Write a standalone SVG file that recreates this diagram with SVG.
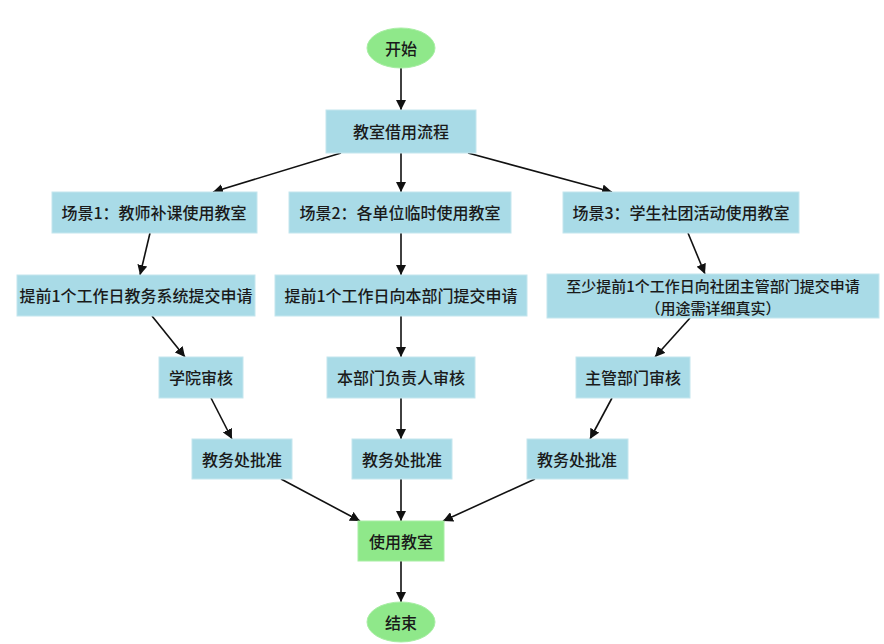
<svg xmlns="http://www.w3.org/2000/svg" width="884" height="644" viewBox="0 0 884 644">
<defs>
<marker id="ah" viewBox="0 0 10 10" refX="10" refY="5" markerWidth="10" markerHeight="10" markerUnits="userSpaceOnUse" orient="auto">
<path d="M0,0 L10,5 L0,10 z" fill="#111"/>
</marker>
<style>
.box{fill:#a9dbe7;stroke:#c4e6ee;stroke-width:1}
.green{fill:#8fe88a;stroke:#a8eea4;stroke-width:1}
.t{font-family:"Noto Sans CJK SC","Liberation Sans",sans-serif;font-size:16px;font-weight:500;fill:#1a1a1a;text-anchor:middle;dominant-baseline:central}
.s{font-size:15px}
.c{stroke:#111;stroke-width:1.6;fill:none;marker-end:url(#ah)}
</style>
</defs>
<rect width="884" height="644" fill="#ffffff"/>
<g id="connectors">
<line class="c" x1="401" y1="68" x2="401" y2="110"/>
<line class="c" x1="341" y1="153" x2="213" y2="192"/>
<line class="c" x1="401" y1="153" x2="401" y2="192"/>
<line class="c" x1="468" y1="153" x2="612" y2="192"/>
<line class="c" x1="150" y1="233" x2="140" y2="275"/>
<line class="c" x1="401" y1="233" x2="401" y2="275"/>
<line class="c" x1="688" y1="233" x2="705" y2="274"/>
<line class="c" x1="152" y1="316" x2="185" y2="357"/>
<line class="c" x1="401" y1="316" x2="401" y2="357"/>
<line class="c" x1="690" y1="318" x2="655" y2="357"/>
<line class="c" x1="211" y1="398" x2="232" y2="439"/>
<line class="c" x1="401" y1="398" x2="401" y2="439"/>
<line class="c" x1="612" y1="398" x2="590" y2="439"/>
<line class="c" x1="281" y1="479" x2="360" y2="521"/>
<line class="c" x1="401" y1="479" x2="401" y2="521"/>
<line class="c" x1="535" y1="479" x2="443" y2="521"/>
<line class="c" x1="401" y1="561" x2="401" y2="602"/>
</g>
<g id="start"><ellipse class="green" cx="401" cy="48" rx="34" ry="20"/><text class="t" x="401" y="48">开始</text></g>
<g id="flow"><rect class="box" x="326" y="110" width="150" height="43"/><text class="t" x="401" y="131">教室借用流程</text></g>
<g id="scene1"><rect class="box" x="52" y="192" width="205" height="41"/><text class="t" x="154" y="212">场景1：教师补课使用教室</text></g>
<g id="scene2"><rect class="box" x="289" y="192" width="222" height="41"/><text class="t" x="400" y="212">场景2：各单位临时使用教室</text></g>
<g id="scene3"><rect class="box" x="563" y="192" width="236" height="41"/><text class="t" x="681" y="212">场景3：学生社团活动使用教室</text></g>
<g id="apply1"><rect class="box" x="17" y="275" width="238" height="41"/><text class="t" x="136" y="295">提前1个工作日教务系统提交申请</text></g>
<g id="apply2"><rect class="box" x="275" y="275" width="252" height="41"/><text class="t" x="401" y="295">提前1个工作日向本部门提交申请</text></g>
<g id="apply3"><rect class="box" x="547" y="274" width="332" height="44"/><text class="t s" x="713" y="285">至少提前1个工作日向社团主管部门提交申请</text><text class="t s" x="713" y="307">（用途需详细真实）</text></g>
<g id="review1"><rect class="box" x="159" y="357" width="84" height="41"/><text class="t" x="201" y="377">学院审核</text></g>
<g id="review2"><rect class="box" x="327" y="357" width="148" height="41"/><text class="t" x="401" y="377">本部门负责人审核</text></g>
<g id="review3"><rect class="box" x="576" y="357" width="114" height="41"/><text class="t" x="633" y="377">主管部门审核</text></g>
<g id="approve1"><rect class="box" x="192" y="439" width="100" height="40"/><text class="t" x="242" y="459">教务处批准</text></g>
<g id="approve2"><rect class="box" x="352" y="439" width="100" height="40"/><text class="t" x="402" y="459">教务处批准</text></g>
<g id="approve3"><rect class="box" x="527" y="439" width="101" height="40"/><text class="t" x="577" y="459">教务处批准</text></g>
<g id="use"><rect class="green" x="358" y="521" width="86" height="40"/><text class="t" x="401" y="541">使用教室</text></g>
<g id="end"><ellipse class="green" cx="401" cy="622" rx="34" ry="20"/><text class="t" x="401" y="622">结束</text></g>
</svg>
